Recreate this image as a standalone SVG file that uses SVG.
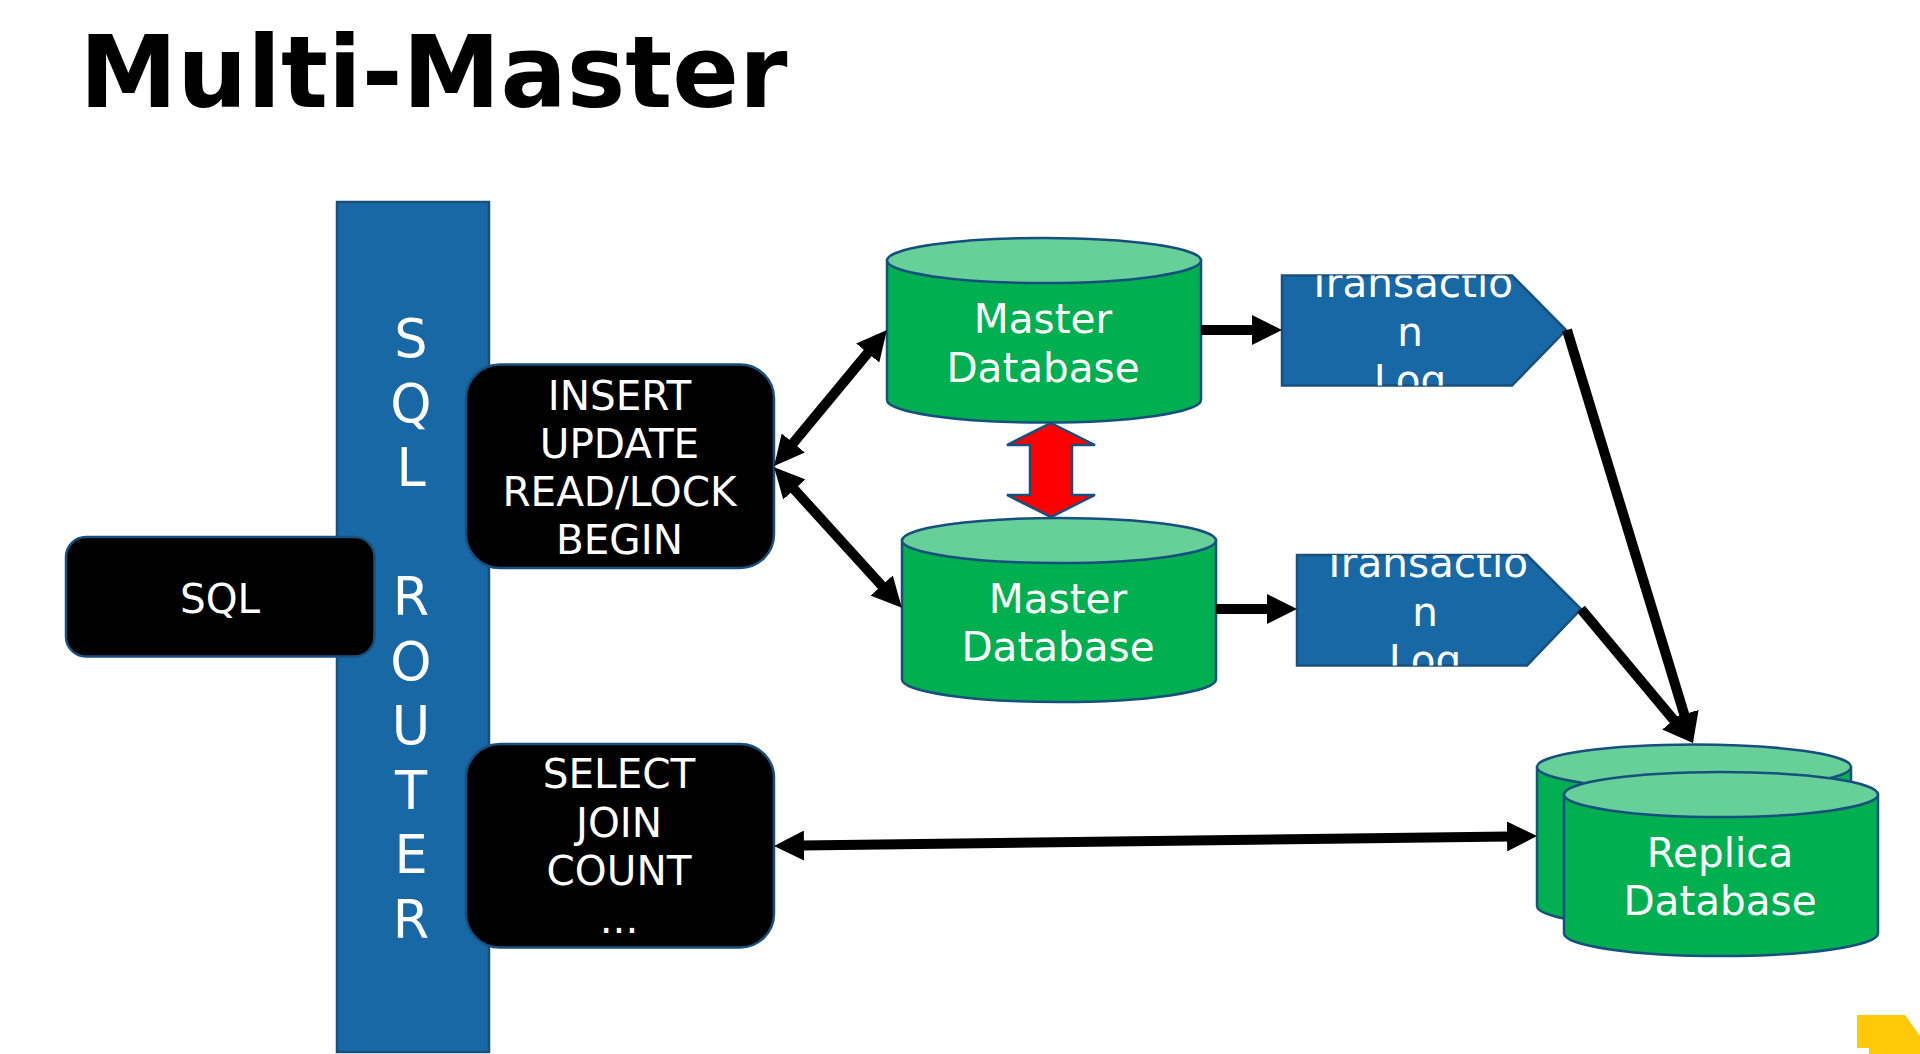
<svg xmlns="http://www.w3.org/2000/svg" width="1920" height="1054" viewBox="0 0 1920 1054">
<style>
text{font-family:"DejaVu Sans",sans-serif;fill:#fff;text-anchor:middle}
.n{stroke:#17507f;stroke-width:2.500}
.blue{fill:#1868a5}
.blk{fill:#000}
.g{fill:#00b050}
.gt{fill:#66d098}
.l{stroke:#000;stroke-width:10;fill:none}
.s41{font-size:40.500px}
.s49{font-size:52.500px}
</style>
<defs>
<marker id="a" viewBox="0 0 30 30" refX="2" refY="15" markerWidth="30" markerHeight="30" markerUnits="userSpaceOnUse" orient="auto-start-reverse"><path d="M0 0L30 15L0 30Z" fill="#000"/></marker>
<clipPath id="c1"><path d="M1282 275.500H1512L1566 330L1512 385.500H1282Z"/></clipPath>
<clipPath id="c2"><path d="M1297 555H1527L1581 609L1527 665.500H1297Z"/></clipPath>
</defs>
<rect width="1920" height="1054" fill="#fff"/>
<text id="title" x="433.500" y="107" textLength="708" lengthAdjust="spacingAndGlyphs" style="font-size:99.500px;font-weight:bold;fill:#000">Multi-Master</text>
<g id="router"><rect class="n blue" x="337" y="202" width="152" height="850"/>
<g class="s49"><text x="411" y="357">S</text><text x="411" y="421.500">Q</text><text x="411" y="486">L</text><text x="411" y="615">R</text><text x="411" y="679.500">O</text><text x="411" y="744">U</text><text x="411" y="808.500">T</text><text x="411" y="873">E</text><text x="411" y="938">R</text></g></g>
<g id="sql"><rect class="n blk" x="66" y="537" width="308.500" height="119.500" rx="20"/><text class="s41" x="220" y="612.500">SQL</text></g>
<g id="write"><rect class="n blk" x="466" y="364.500" width="308" height="203.500" rx="34"/>
<g class="s41"><text x="619.500" y="409.500">INSERT</text><text x="619.500" y="457.500">UPDATE</text><text x="619.500" y="505.500">READ/LOCK</text><text x="619.500" y="553.500">BEGIN</text></g></g>
<g id="read"><rect class="n blk" x="466" y="744" width="308" height="203.500" rx="34"/>
<g class="s41"><text x="619" y="788">SELECT</text><text x="619" y="836.500">JOIN</text><text x="619" y="885">COUNT</text><text x="619" y="933">...</text></g></g>
<g id="master1"><path class="n g" d="M887 260.500V400A157 22.500 0 0 0 1201 400V260.500Z"/><ellipse class="n gt" cx="1044" cy="260.500" rx="157" ry="22.500"/>
<g class="s41"><text x="1043" y="332.500">Master</text><text x="1043" y="381.500">Database</text></g></g>
<g id="master2"><path class="n g" d="M902 540.500V679.500A157 22.500 0 0 0 1216 679.500V540.500Z"/><ellipse class="n gt" cx="1059" cy="540.500" rx="157" ry="22.500"/>
<g class="s41"><text x="1058" y="612.500">Master</text><text x="1058" y="661">Database</text></g></g>
<g id="sync"><path class="n" fill="#f00" d="M1051 423L1095 445H1072V495H1095L1051 517L1007 495H1030V445H1007Z"/></g>
<g id="log1"><path class="n blue" d="M1282 275.500H1512L1566 330L1512 385.500H1282Z"/>
<g class="s41" clip-path="url(#c1)"><text x="1410" y="297">Transactio</text><text x="1410" y="345.500">n</text><text x="1410" y="394">Log</text></g></g>
<g id="log2"><path class="n blue" d="M1297 555H1527L1581 609L1527 665.500H1297Z"/>
<g class="s41" clip-path="url(#c2)"><text x="1425" y="577">Transactio</text><text x="1425" y="625.500">n</text><text x="1425" y="674">Log</text></g></g>
<g id="replica-back"><path class="n g" d="M1537 767V906A157 22.500 0 0 0 1851 906V767Z"/><ellipse class="n gt" cx="1694" cy="767" rx="157" ry="22.500"/></g>
<g id="replica"><path class="n g" d="M1564 794.500V933.500A157 22.500 0 0 0 1878 933.500V794.500Z"/><ellipse class="n gt" cx="1721" cy="794.500" rx="157" ry="22.500"/>
<g class="s41"><text x="1720" y="866.500">Replica</text><text x="1720" y="915">Database</text></g></g>
<g id="connectors">
<path class="l" marker-start="url(#a)" marker-end="url(#a)" d="M792 444.500L869 351.500"/>
<path class="l" marker-start="url(#a)" marker-end="url(#a)" d="M793 488L883 587"/>
<path class="l" marker-end="url(#a)" d="M1201 330H1254"/>
<path class="l" marker-end="url(#a)" d="M1216 609H1269"/>
<path class="l" d="M1567 330L1684.800 716.200" marker-end="url(#a)"/>
<path class="l" d="M1581 609L1675 721.500" marker-end="url(#a)"/>
<path class="l" marker-start="url(#a)" marker-end="url(#a)" d="M802 845.600L1509 836.400"/>
</g>
<path id="badge" fill="#ffc90a" d="M1857 1015H1905L1920 1036V1054H1869V1048H1857Z"/>
</svg>
